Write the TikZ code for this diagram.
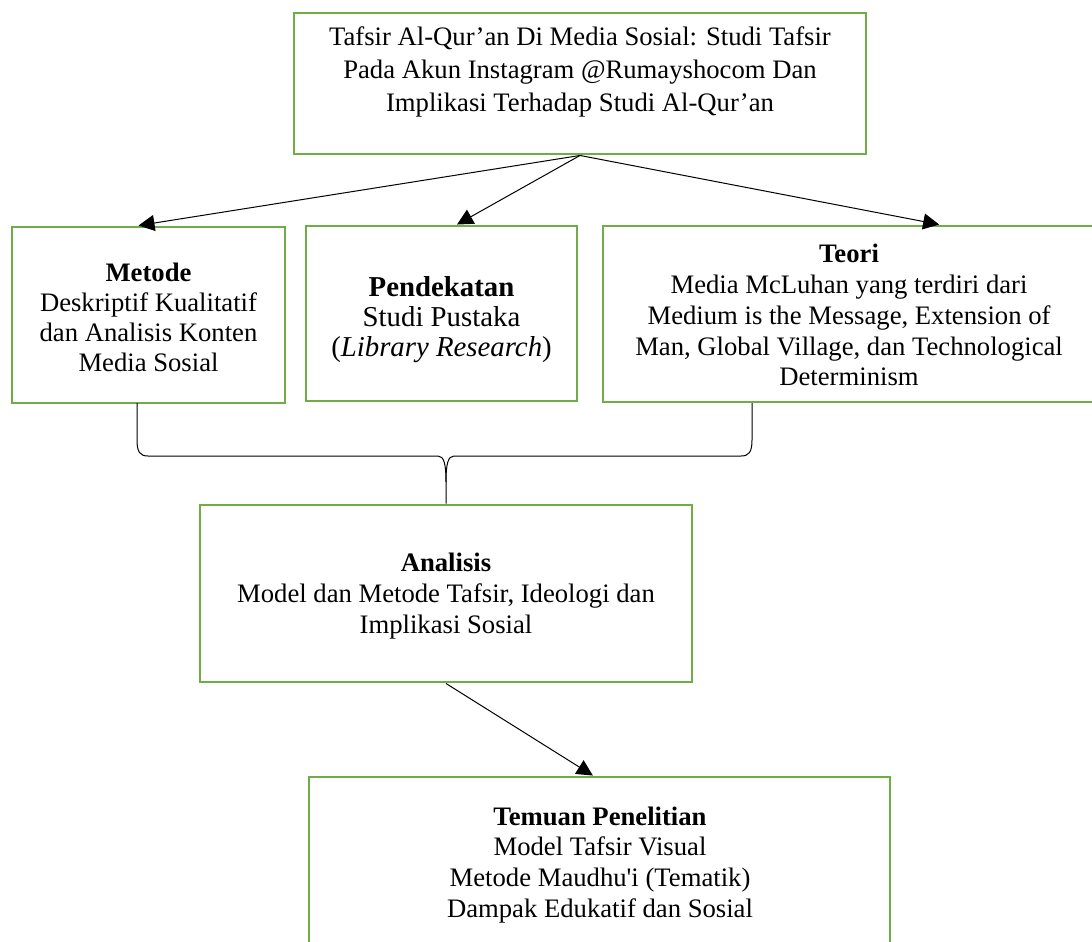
\documentclass[tikz,border=0pt]{standalone}
\usepackage{fontspec}
\setmainfont{Liberation Serif}
\usetikzlibrary{arrows.meta, fit}
\definecolor{hijau}{RGB}{112,173,71}

\begin{document}
\begin{tikzpicture}[x=0.75pt, y=-0.75pt]
\useasboundingbox (0,0) rectangle (1092,942);
\clip (0,0) rectangle (1092,942);

\begin{scope}[every node/.style={rectangle,draw=hijau,line width=2.2pt,inner sep=0pt}]
    \node (judul) [fit={(294,13) (866,154)}] {};

    \node (metode) [fit={(12,227) (285,403)}] {};
    \node (pendekatan) [fit={(306,226) (577,401)}] {};
    \node (teori) [fit={(603,226) (1094,402)}] {};

    \node (analisis) [fit={(200,505) (692,682)}] {};
    \node (temuan) [fit={(309,777) (890,990)}] {};
\end{scope}

\begin{scope}[every node/.style={align=center,inner sep=0pt,font=\fontsize{20}{23.2}\selectfont}]
    \node (tjudul) at (580,72) [font=\fontsize{20}{24.6}\selectfont] {Tafsir Al-Qur’an Di Media Sosial: Studi Tafsir\\Pada Akun Instagram @Rumayshocom Dan\\Implikasi Terhadap Studi Al-Qur’an};

    \node (tmetode) at (148.5,317) [font=\fontsize{20}{22.5}\selectfont] {\textbf{Metode}\\Deskriptif Kualitatif\\dan Analisis Konten\\Media Sosial};
    \node (tpendekatan) at (441.5,320) [font=\fontsize{21.6}{22.5}\selectfont] {\textbf{Pendekatan}\\Studi Pustaka\\(\textit{Library Research})};
    \node (tteori) at (849,315) {\textbf{Teori}\\Media McLuhan yang terdiri dari\\Medium is the Message, Extension of\\Man, Global Village, dan Technological\\Determinism};

    \node (tanalisis) at (446,596) {\textbf{Analisis}\\Model dan Metode Tafsir, Ideologi dan\\Implikasi Sosial};
    \node (ttemuan) at (600,865) {\textbf{Temuan Penelitian}\\Model Tafsir Visual\\Metode Maudhu\textquotesingle i (Tematik)\\Dampak Edukatif dan Sosial};
\end{scope}

\begin{scope}[>={Triangle[length=12pt,width=12pt]},
              every edge/.style={draw=black,line width=0.75pt}]
    \path [->] (judul.south) edge ([xshift=-7.5pt]metode.north);
    \path [->] (judul.south) edge ([xshift=11.6pt]pendekatan.north);
    \path [->] (judul.south) edge ([xshift=68pt]teori.north);

    \path [->] (analisis.south) edge ([xshift=-5pt]temuan.north);
\end{scope}

% kurung kurawal
\coordinate (kiri) at (137,403);
\coordinate (kanan) at (752,403);
\coordinate (tengah) at (446,482);
\draw[line width=0.75pt] (kiri) -- (137,440) .. controls (137,452) and (140,456) .. (148,456) -- (438,456) .. controls (444,456) and (446,464) .. (tengah) -- (analisis.north);
\draw[line width=0.75pt] (kanan) -- (752,440) .. controls (752,452) and (749,456) .. (741,456) -- (454,456) .. controls (448,456) and (446,464) .. (tengah);
\end{tikzpicture}
\end{document}
